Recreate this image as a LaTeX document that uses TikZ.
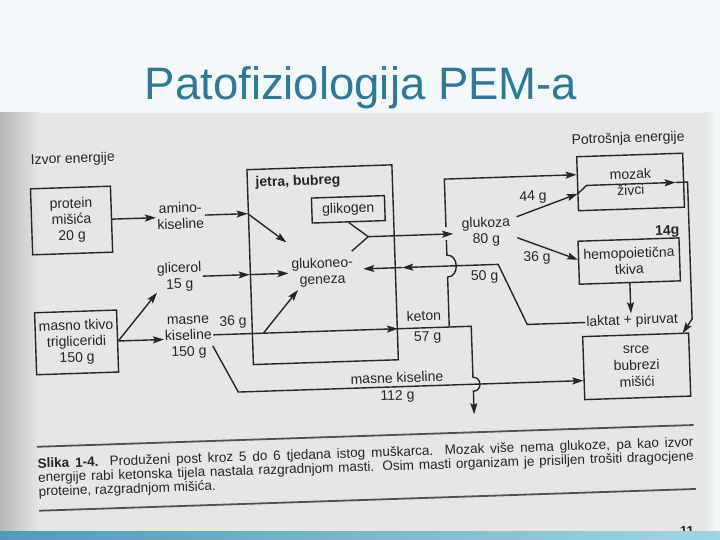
\documentclass[tikz,border=0pt]{standalone}
\usepackage{fontspec}
\setmainfont{Liberation Sans}
\usetikzlibrary{arrows.meta}
\definecolor{ink}{HTML}{262626}
\definecolor{titleblue}{HTML}{2D7997}
\definecolor{slidebg}{HTML}{F3F8FA}
\definecolor{paper}{HTML}{E6E6E6}
\definecolor{paperdark}{HTML}{B8B8B8}
\definecolor{stripL}{HTML}{4F9CB5}
\definecolor{stripR}{HTML}{A5D4E0}
\begin{document}
\begin{tikzpicture}[x=1pt,y=-1pt,
  lbl/.style={font=\fontsize{14}{16}\selectfont, align=center, inner sep=1pt, text=ink},
  boxnode/.style={lbl, draw=ink, line width=1.4pt, inner sep=0pt},
  conn/.style={draw=ink, line width=1.4pt},
  arr/.style={conn, -{Stealth[length=11pt,width=7pt,inset=2pt]}},
  rulestyle/.style={draw=ink!80, line width=1.8pt},
  capt/.style={font=\fontsize{13.5}{14}\selectfont, inner sep=0pt, text=ink},
]
\useasboundingbox (0,0) rectangle (720,540);
\fill[slidebg] (0,0) rectangle (720,540);
\fill[paper] (0,113) rectangle (704,531);
\shade[left color=paperdark, right color=paper] (0,113) rectangle (40,531);
\shade[left color=paper, right color=slidebg] (704,113) rectangle (716,531);

\node[font=\fontsize{45.5}{50}\selectfont, text=titleblue, anchor=base] (title) at (361,100) {Patofiziologija PEM-a};

\begin{scope}[rotate around={1.9:(360,320)}, transform shape]
% ---- nodes
\node[lbl, anchor=west] (izvor) at (35,150) {Izvor energije};
\node[boxnode, minimum width=80pt, minimum height=66pt] (protein) at (75,211) {protein\\mišića\\20 g};
\node[boxnode, minimum width=82pt, minimum height=62pt] (masno) at (76,333) {masno tkivo\\trigliceridi\\150 g};
\node[lbl] (amino) at (184,210) {amino-\\kiseline};
\node[lbl] (glicerol) at (181,271) {glicerol\\15 g};
\node[lbl] (masnek) at (188,332) {masne\\kiseline\\150 g};
\node[lbl] (g36a) at (233,318) {36 g};
\node[draw=ink, line width=1.4pt, minimum width=145pt, minimum height=195pt, inner sep=0pt] (jetra) at (324.5,263.5) {};
\node[lbl, font=\fontsize{14}{16}\selectfont\bfseries, anchor=west] (jetralbl) at (259,180) {jetra, bubreg};
\node[boxnode, minimum width=73pt, minimum height=25pt] (glikogen) at (352,209) {glikogen};
\node[lbl] (glukoneo) at (324,271) {glukoneo-\\geneza};
\node[lbl] (glukoza) at (489,236) {glukoza\\80 g};
\node[lbl] (potrosnja) at (634,148) {Potrošnja energije};
\node[boxnode, minimum width=106pt, minimum height=54pt] (mozak) at (635,191) {mozak\\živci};
\node[lbl] (g44) at (537,203) {44 g};
\node[lbl] (g36b) at (539,264) {36 g};
\node[lbl, font=\fontsize{14}{16}\selectfont\bfseries] (g14) at (670,242) {14g};
\node[boxnode, minimum width=101pt, minimum height=43pt] (hemo) at (631,270) {hemopoietična\\tkiva};
\node[lbl] (laktat) at (632,330) {laktat + piruvat};
\node[lbl] (g50) at (486,281) {50 g};
\node[boxnode, minimum width=106pt, minimum height=63pt, font=\fontsize{14}{16.5}\selectfont] (srce) at (635,375.5) {srce\\bubrezi\\mišići};
\node[lbl] (keton) at (424,318) {keton};
\node[lbl] (g57) at (427,340) {57 g};
\node[lbl] (mk) at (395,379) {masne kiseline};
\node[lbl] (g112) at (395,398) {112 g};

% ---- coordinates
\coordinate (aT) at (289,240);
\coordinate (mg) at (158,286);
\coordinate (m1) at (213,330);
\coordinate (m2) at (263,330);
\coordinate (m2t) at (299,288);
\coordinate (m3) at (212,341);
\coordinate (m4) at (236,388);
\coordinate (J) at (371,237);
\coordinate (gl) at (354,251);
\coordinate (Gt) at (456,237);
\coordinate (kR) at (471,330);
\coordinate (kD) at (471,418);
\coordinate (kV) at (449,330);
\coordinate (kT) at (449,182);
\coordinate (L1) at (527,330);
\coordinate (L2) at (500,269);
\coordinate (L3) at (404,269);
\coordinate (L4) at (365,269);
\coordinate (g1) at (520,222);
\coordinate (g1t) at (582,201);
\coordinate (g2) at (520,243);
\coordinate (g2t) at (580,267);
\coordinate (mi1) at (591,193);
\coordinate (mi2) at (680,193);
\coordinate (mi3) at (692,193);
\coordinate (mi4) at (692,330);
\coordinate (s1) at (682,344);

% ---- connectors
\draw[arr] (protein.east) -- (protein.east -| amino.west);
\draw[arr] (amino.east) -- (amino.east -| jetra.west);
\draw[arr] (amino.east -| jetra.west) -- (aT);
\draw[arr] (glicerol.east) -- (glicerol.east -| jetra.west);
\draw[arr, shorten >=2pt] (glicerol.east -| jetra.west) -- (glicerol.east -| glukoneo.west);
\draw[arr] (masno.east) -- (masno.east -| masnek.west);
\draw[arr] (masno.east) -- (mg);
\draw[arr] (m1) -- (m1 -| jetra.east);
\draw[arr] (m2) -- (m2t);
\draw[arr] (m3) -- (m4) -- (m4 -| srce.west);
\draw[conn] (glikogen.south) -- (J);
\draw[conn] (gl) -- (J);
\draw[arr] (J) -- (Gt);
\draw[arr] (m1 -| jetra.east) -- (kR) -- (471,381) .. controls (480,381) and (480,395) .. (471,395) -- (kD);
\draw[conn] (kV) -- (449,280) .. controls (461,280) and (461,258) .. (449,258) -- (449,243);
\draw[arr] (449,230) -- (kT) -- (kT -| mozak.west);
\draw[arr] (laktat.west) -- (L1) -- (L2) -- (L3);
\draw[arr] (L3) -- (L4);
\draw[arr] (g1) -- (g1t);
\draw[arr] (g1t) -- (mi1) -- (mi2);
\draw[arr] (mi2) -- (mi3) -- (mi4) -- (s1);
\draw[arr] (g2) -- (g2t);
\draw[arr] (hemo.south) -- (hemo.south |- laktat.north);

% ---- caption
\draw[rulestyle] (33,436) -- (690,436);
\node[capt, anchor=base west] (cap1) at (33,457.5) {\makebox[656pt][s]{\textbf{Slika 1-4.} Produženi post kroz 5 do 6 tjedana istog muškarca. Mozak više nema glukoze, pa kao izvor}};
\node[capt, anchor=base west] (cap2) at (33,471.5) {\makebox[656pt][s]{energije rabi ketonska tijela nastala razgradnjom masti. Osim masti organizam je prisiljen trošiti dragocjene}};
\node[capt, anchor=base west] (cap3) at (33,485.5) {proteine, razgradnjom mišića.};
\draw[rulestyle] (33,500) -- (690,500);
\node[capt, font=\fontsize{13}{13}\selectfont\bfseries, anchor=base] (pg) at (680,546) {11};
\end{scope}

\shade[left color=stripL, right color=stripR] (0,531) rectangle (720,540);
\end{tikzpicture}
\end{document}
